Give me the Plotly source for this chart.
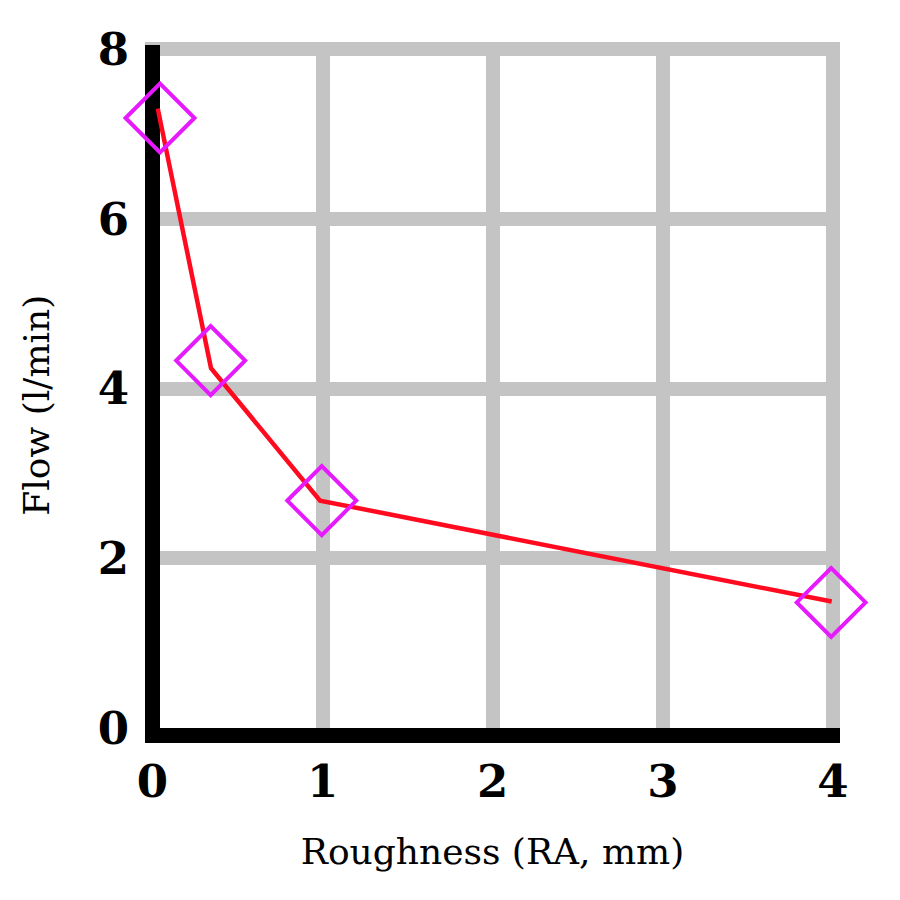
import plotly.graph_objects as go

# Data
line_x = [0.031, 0.344, 0.985, 3.993]
line_y = [7.30, 4.24, 2.68, 1.49]
marker_x = [0.044, 0.342, 0.995, 3.99]
marker_y = [7.19, 4.33, 2.68, 1.48]
x_ticks = [0, 1, 2, 3, 4]
y_ticks = [0, 2, 4, 6, 8]
x_title = "Roughness (RA, mm)"
y_title = "Flow (l/min)"

FONT = "DejaVu Serif"

fig = go.Figure()
fig.add_trace(go.Scatter(
    x=line_x, y=line_y, mode="lines",
    line=dict(color="#ff0a1e", width=4.5),
    cliponaxis=False, showlegend=False,
))
fig.add_trace(go.Scatter(
    x=marker_x, y=marker_y, mode="markers",
    marker=dict(symbol="diamond-open", size=53, color="#e619ff",
                line=dict(color="#e619ff", width=4)),
    cliponaxis=False, showlegend=False,
))

fig.update_layout(
    width=900, height=900,
    margin=dict(l=145, r=60, t=45, b=171.5),
    plot_bgcolor="white", paper_bgcolor="white",
    font=dict(family=FONT, color="black"),
    xaxis=dict(
        range=[-0.0441, 4.0418], tickvals=x_ticks, ticktext=[str(v) for v in x_ticks],
        showgrid=True, gridcolor="#c4c4c4", gridwidth=14,
        showline=True, linecolor="black", linewidth=15,
        zeroline=True, zerolinecolor="black", zerolinewidth=15,
        ticks="",
        tickfont=dict(family=FONT, size=45, color="black", weight="bold"),
        title=dict(text=x_title, font=dict(family=FONT, size=36, color="black"), standoff=38),
    ),
    yaxis=dict(
        range=[0, 8.05], tickvals=y_ticks, ticktext=[str(v) for v in y_ticks],
        showgrid=True, gridcolor="#c4c4c4", gridwidth=14,
        showline=False, zeroline=False, ticks="",
        ticklabelstandoff=15,
        tickfont=dict(family=FONT, size=45, color="black", weight="bold"),
    ),
    annotations=[dict(
        text=y_title, textangle=-90, xref="paper", yref="paper",
        x=-0.1554, y=0.4733, xanchor="center", yanchor="middle",
        showarrow=False, font=dict(family=FONT, size=36, color="black"),
    )],
)

fig.write_html("out.html")
